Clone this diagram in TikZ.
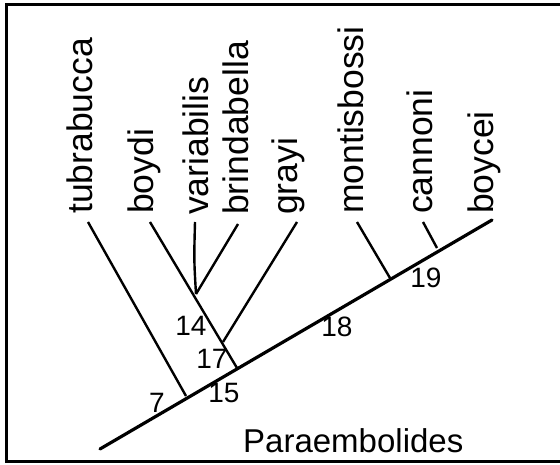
\documentclass[tikz,border=0pt]{standalone}
\usepackage{fontspec}
\setmainfont{Liberation Sans}
\begin{document}
\begin{tikzpicture}[x=1pt,y=-1pt,
  taxon/.style={rotate=90,anchor=base west,inner sep=0pt,font=\fontsize{35.5}{35.5}\selectfont},
  num/.style={inner sep=0pt,font=\fontsize{28}{28}\selectfont},
  branch/.style={line width=2.4pt},
  spine/.style={line width=3.2pt,line cap=round},
  frame/.style={line width=3pt}]
\useasboundingbox (0,0) rectangle (560,465);
% frame (open at right)
\draw[frame] (560,5) -- (6,5) -- (6,461) -- (560,461);
% tip coordinates
\coordinate (root) at (100,449);
\coordinate (tipboycei) at (492,220);
\coordinate (j7) at (186,396);
\coordinate (j15) at (237,368);
\coordinate (j17) at (223,342);
\coordinate (j14) at (196,294);
\coordinate (j18) at (390,278);
\coordinate (j19) at (437,248);
\coordinate (ttub) at (88,222);
\coordinate (tboy) at (150,222);
\coordinate (tvar) at (195,222);
\coordinate (tbri) at (238,224);
\coordinate (tgra) at (297,222);
\coordinate (tmon) at (357,222);
\coordinate (tcan) at (423,222);
% labels
\node[taxon] (tubrabucca) at (92,214) {tubrabucca};
\node[taxon] (boydi) at (153,214) {boydi};
\node[taxon] (variabilis) at (208,215) {variabilis};
\node[taxon] (brindabella) at (248,215) {brindabella};
\node[taxon] (grayi) at (297,215) {grayi};
\node[taxon] (montisbossi) at (363,214) {montisbossi};
\node[taxon] (cannoni) at (432,214) {cannoni};
\node[taxon] (boycei) at (493,214) {boycei};
% branches
\draw[spine] (root) -- (tipboycei);
\draw[branch] (ttub) -- (j7);
\draw[branch] (tboy) -- (j15);
\draw[branch] (tvar) .. controls (194,260) .. (j14);
\draw[branch] (tbri) -- (j14);
\draw[branch] (tgra) -- (j17);
\draw[branch] (tmon) -- (j18);
\draw[branch] (tcan) -- (j19);
% numbers
\node[num] (n14) at (191,326) {14};
\node[num] (n17) at (212,359) {17};
\node[num] (n15) at (224,393) {15};
\node[num] (n7) at (157,403) {7};
\node[num] (n18) at (337,327) {18};
\node[num] (n19) at (426,278) {19};
\node[anchor=base west,inner sep=0pt,font=\fontsize{33}{33}\selectfont] (genus) at (243,452) {Paraembolides};
\end{tikzpicture}
\end{document}
